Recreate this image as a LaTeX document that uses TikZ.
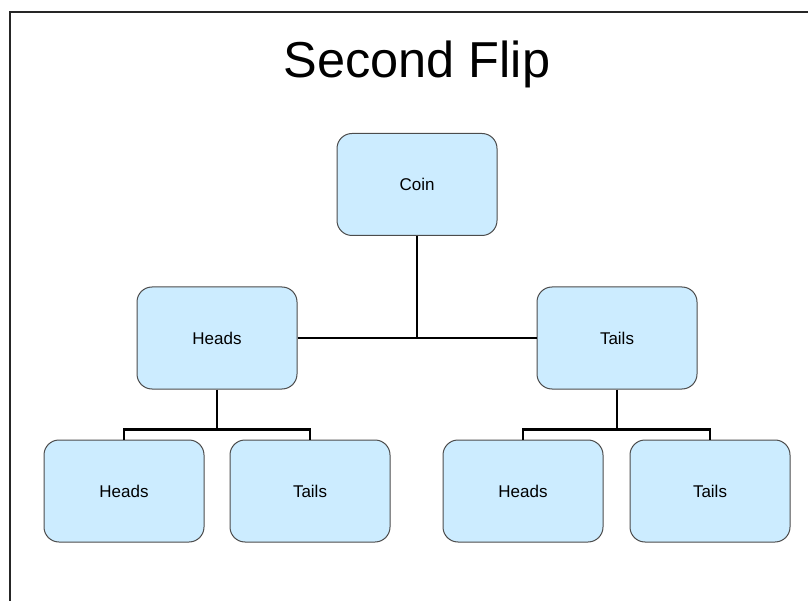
\documentclass[tikz,border=0pt]{standalone}
\usepackage{fontspec}
\setmainfont{Liberation Sans}
\begin{document}
\begin{tikzpicture}[x=1pt,y=-1pt,
  box/.style={draw=black!70, line width=1pt, fill=boxfill, rounded corners=15pt,
    minimum width=160pt, minimum height=102pt, inner sep=0pt, font=\fontsize{17}{19}\selectfont},
  link/.style={draw=black, line width=2.2pt}]
\definecolor{boxfill}{RGB}{204,236,255}
\useasboundingbox (0,0) rectangle (808,601);
\draw[line width=2.5pt, draw=black!85] (10,640) -- (10,12) -- (850,12);
\node[font=\fontsize{50.5}{58}\selectfont] (title) at (417,64) {Second Flip};
\node[box] (coin) at (417,184.5) {Coin};
\node[box] (h) at (217,338) {Heads};
\node[box] (t) at (617,338) {Tails};
\node[box] (hh) at (124,491) {Heads};
\node[box] (ht) at (310,491) {Tails};
\node[box] (th) at (523,491) {Heads};
\node[box] (tt) at (710,491) {Tails};
\coordinate (j) at (417,338);
\coordinate (hj) at (217,430);
\coordinate (tj) at (617,430);
\draw[link] (coin.south) -- (j);
\draw[link] (h.east) -- (t.west);
\draw[link] (h.south) -- (hj);
\draw[link] (hh.north) -- ++(0,-10) -| (ht.north);
\draw[link] (t.south) -- (tj);
\draw[link] (th.north) -- ++(0,-10) -| (tt.north);
\end{tikzpicture}
\end{document}
